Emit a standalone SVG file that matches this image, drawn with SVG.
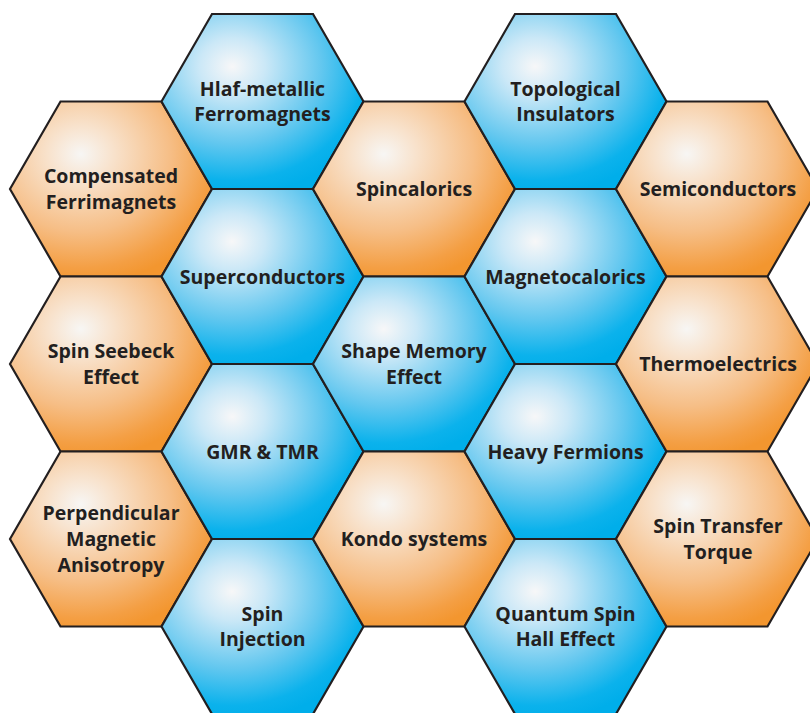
<svg xmlns="http://www.w3.org/2000/svg" xmlns:xlink="http://www.w3.org/1999/xlink" width="810" height="713" viewBox="0 0 810 713">
<defs>
<radialGradient id="gBlue" cx="0.35" cy="0.3" fx="0.35" fy="0.3" r="0.74">
<stop offset="0" stop-color="#f7f7f8"/>
<stop offset="0.22" stop-color="#cbe8f7"/>
<stop offset="0.6" stop-color="#62c7ef"/>
<stop offset="0.88" stop-color="#0bb2ec"/>
<stop offset="1" stop-color="#00aeea"/>
</radialGradient>
<radialGradient id="gOrange" cx="0.35" cy="0.3" fx="0.35" fy="0.3" r="0.74">
<stop offset="0" stop-color="#f7f6f4"/>
<stop offset="0.22" stop-color="#f8e2cc"/>
<stop offset="0.6" stop-color="#f6be86"/>
<stop offset="0.88" stop-color="#f49f44"/>
<stop offset="1" stop-color="#f3962f"/>
</radialGradient>
<path id="hex" d="M-101,0 L-50.5,-87.5 L50.5,-87.5 L101,0 L50.5,87.5 L-50.5,87.5 Z"/>
</defs>
<style>
.b{fill:url(#gBlue);stroke:#231f20;stroke-width:2.2;stroke-linejoin:miter}
.o{fill:url(#gOrange);stroke:#231f20;stroke-width:2.2;stroke-linejoin:miter}
text{font-family:"Open Sans","Noto Sans",sans-serif;font-weight:700;font-size:19.5px;fill:#231f20;text-anchor:middle}
</style>
<rect width="810" height="713" fill="#ffffff"/>
<g id="compensated"><use xlink:href="#hex" class="o" transform="translate(111,189)"/><text x="111" y="183">Compensated</text><text x="111" y="208.5">Ferrimagnets</text></g>
<g id="spin-seebeck"><use xlink:href="#hex" class="o" transform="translate(111,364)"/><text x="111" y="358">Spin Seebeck</text><text x="111" y="383.5">Effect</text></g>
<g id="perpendicular"><use xlink:href="#hex" class="o" transform="translate(111,539)"/><text x="111" y="520">Perpendicular</text><text x="111" y="546">Magnetic</text><text x="111" y="572">Anisotropy</text></g>
<g id="half-metallic"><use xlink:href="#hex" class="b" transform="translate(262.5,101.5)"/><text x="262.5" y="95.5">Hlaf-metallic</text><text x="262.5" y="121">Ferromagnets</text></g>
<g id="superconductors"><use xlink:href="#hex" class="b" transform="translate(262.5,276.5)"/><text x="262.5" y="283.5">Superconductors</text></g>
<g id="gmr-tmr"><use xlink:href="#hex" class="b" transform="translate(262.5,451.5)"/><text x="262.5" y="458.5">GMR &amp; TMR</text></g>
<g id="spin-injection"><use xlink:href="#hex" class="b" transform="translate(262.5,626.5)"/><text x="262.5" y="620.5">Spin</text><text x="262.5" y="646">Injection</text></g>
<g id="spincalorics"><use xlink:href="#hex" class="o" transform="translate(414,189)"/><text x="414" y="196">Spincalorics</text></g>
<g id="shape-memory"><use xlink:href="#hex" class="b" transform="translate(414,364)"/><text x="414" y="358">Shape Memory</text><text x="414" y="383.5">Effect</text></g>
<g id="kondo"><use xlink:href="#hex" class="o" transform="translate(414,539)"/><text x="414" y="546">Kondo systems</text></g>
<g id="topological"><use xlink:href="#hex" class="b" transform="translate(565.5,101.5)"/><text x="565.5" y="95.5">Topological</text><text x="565.5" y="121">Insulators</text></g>
<g id="magnetocalorics"><use xlink:href="#hex" class="b" transform="translate(565.5,276.5)"/><text x="565.5" y="283.5">Magnetocalorics</text></g>
<g id="heavy-fermions"><use xlink:href="#hex" class="b" transform="translate(565.5,451.5)"/><text x="565.5" y="458.5">Heavy Fermions</text></g>
<g id="quantum-spin-hall"><use xlink:href="#hex" class="b" transform="translate(565.5,626.5)"/><text x="565.5" y="620.5">Quantum Spin</text><text x="565.5" y="646">Hall Effect</text></g>
<g id="semiconductors"><use xlink:href="#hex" class="o" transform="translate(717,189)"/><text x="718" y="196">Semiconductors</text></g>
<g id="thermoelectrics"><use xlink:href="#hex" class="o" transform="translate(717,364)"/><text x="718" y="371">Thermoelectrics</text></g>
<g id="spin-transfer"><use xlink:href="#hex" class="o" transform="translate(717,539)"/><text x="718" y="533">Spin Transfer</text><text x="718" y="558.5">Torque</text></g>
<g id="connectors"/>
</svg>
